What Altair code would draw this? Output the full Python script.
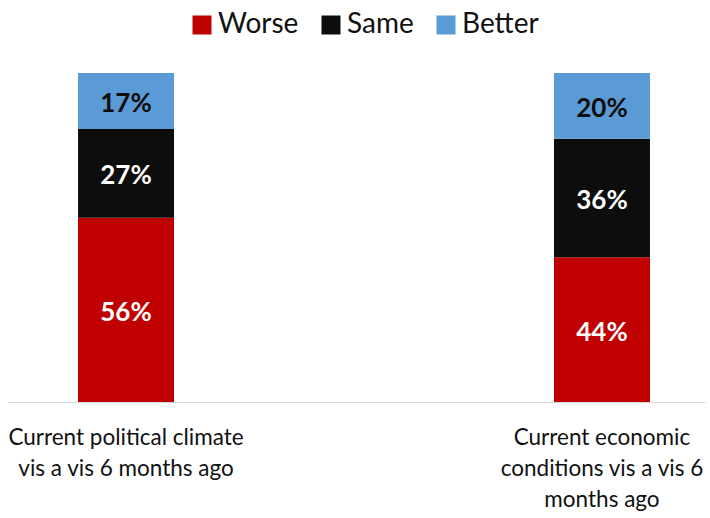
import altair as alt
import pandas as pd

# Survey categories ("|" marks a line break in the axis label)
categories = [
    "Current political climate|vis a vis 6 months ago",
    "Current economic|conditions vis a vis 6|months ago",
]
responses = ["Worse", "Same", "Better"]
worse = [56, 44]
same = [27, 36]
better = [17, 20]

fill_colors = ["#C00000", "#0D0D0D", "#5B9BD5"]
text_colors = ["#FFFFFF", "#FFFFFF", "#0D0D0D"]

rows = []
for i, cat in enumerate(categories):
    for k, (resp, vals) in enumerate(zip(responses, [worse, same, better])):
        rows.append({
            "category": cat,
            "response": resp,
            "value": vals[i],
            "order": k,
            "tcolor": text_colors[k],
        })
df = pd.DataFrame(rows)

FONT = "Lato"

x_enc = alt.X(
    "category:N",
    sort=categories,
    scale=alt.Scale(range=[7, 705], paddingInner=0.7983, paddingOuter=0.1324, align=0.5635),
    axis=alt.Axis(
        title=None,
        labelAngle=0,
        labelExpr="split(datum.label, '|')",
        labelFont=FONT,
        labelFontSize=22.5,
        labelColor="#111111",
        labelLineHeight=31,
        labelPadding=24,
        labelLimit=400,
        ticks=False,
        domainColor="#D9D9D9",
        domainWidth=1,
        grid=False,
    ),
)

base = (
    alt.Chart(df)
    .transform_stack(
        stack="value",
        groupby=["category"],
        sort=[alt.SortField("order", order="ascending")],
        as_=["y0", "y1"],
    )
    .transform_calculate(mid="(datum.y0 + datum.y1) / 2", label="datum.value + '%'")
)

bars = base.mark_bar().encode(
    x=x_enc,
    y=alt.Y("y0:Q", scale=alt.Scale(domain=[0, 100]), axis=None),
    y2="y1:Q",
    color=alt.Color(
        "response:N",
        scale=alt.Scale(domain=responses, range=fill_colors),
        sort=responses,
        legend=alt.Legend(
            title=None,
            orient="none",
            direction="horizontal",
            legendX=188,
            legendY=-62,
            symbolType="square",
            symbolSize=361,
            symbolStrokeWidth=0,
            symbolOpacity=1,
            labelFont=FONT,
            labelFontSize=28,
            labelColor="#111111",
            labelOffset=2,
            columnPadding=18,
        ),
    ),
)

labels = base.mark_text(font=FONT, fontWeight="bold", fontSize=26, baseline="middle", dy=3).encode(
    x=alt.X("category:N", sort=categories),
    y=alt.Y("mid:Q"),
    text="label:N",
    color=alt.Color("tcolor:N", scale=None),
)

chart = (
    alt.layer(bars, labels)
    .properties(
        width=710,
        height=329,
        autosize=alt.AutoSizeParams(type="none"),
        padding={"left": 0, "top": 73, "right": 0, "bottom": 116},
        background="#FFFFFF",
    )
    .configure_view(strokeWidth=0)
)

chart.save("out.html", embed_options={"renderer": "svg", "actions": False})
